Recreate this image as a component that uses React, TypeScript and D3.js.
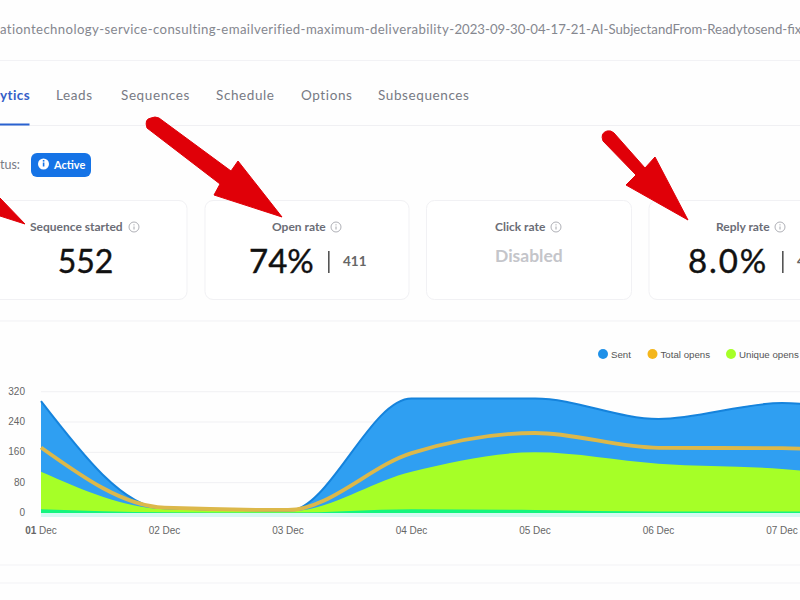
import React, { useMemo } from "react";
import * as d3 from "d3";

const dates = ["01 Dec", "02 Dec", "03 Dec", "04 Dec", "05 Dec", "06 Dec", "07 Dec", "08 Dec"];
const tickLabels = dates.slice(0, 7);
const yTicks = [0, 80, 160, 240, 320];
const sent = [295, 10, 5, 302, 302, 248, 290, 240];
const totalOpens = [173, 14, 8, 158, 211, 172, 171, 135];
const uniqueOpens = [109, 10, 4, 109, 160, 130, 116, 80];
const lowSeries = [10, 2, 1, 10, 8, 4, 4, 4];
const legendNames = ["Sent", "Total opens", "Unique opens"];
const legendColors = ["#1e90e8", "#f4b61c", "#a6ff27"];
const tabs = ["Leads", "Sequences", "Schedule", "Options", "Subsequences"];
const tabX = [56, 121, 216, 301, 378];

const FONT = "Lato, 'Open Sans', sans-serif";
const AXIS = "'Liberation Sans', Arial, sans-serif";

function Info({ x, y, color = "#9a9ca3" }: { x: number; y: number; color?: string }) {
  return (
    <g>
      <circle cx={x} cy={y} r={5} fill="none" stroke={color} strokeWidth={0.8} />
      <line x1={x} x2={x} y1={y - 0.5} y2={y + 2.5} stroke={color} strokeWidth={0.9} />
      <circle cx={x} cy={y - 2.2} r={0.6} fill={color} />
    </g>
  );
}

function Card({ x, w }: { x: number; w: number }) {
  return <rect x={x} y={200.5} width={w} height={99} rx={8} fill="#fff" stroke="#f1f1f4" strokeWidth={1} />;
}

export default function App() {
  const x = useMemo(() => d3.scalePoint<string>().domain(dates).range([41, 41 + 123.5 * 7]), []);
  const y = useMemo(() => d3.scaleLinear().domain([0, 320]).range([513, 391.7]), []);
  const area = (vals: number[]) =>
    d3
      .area<number>()
      .x((_, i) => x(dates[i]) as number)
      .y0(y(0))
      .y1((d) => y(d))
      .curve(d3.curveMonotoneX)(vals) as string;
  const line = (vals: number[]) =>
    d3
      .line<number>()
      .x((_, i) => x(dates[i]) as number)
      .y((d) => y(d))
      .curve(d3.curveMonotoneX)(vals) as string;

  return (
    <svg
      width={800}
      height={600}
      viewBox="0 0 800 600"
      style={{ position: "fixed", left: 0, top: 0, background: "#fefefe" }}
    >
      <text x={0} y={34} fontFamily={FONT} fontSize={13.2} fill="#85878f">
        <tspan letterSpacing={0.38}>ationtechnology-service-consulting-emailverified-maximum-deliverability-</tspan>
        <tspan letterSpacing={0}>2023-09-30-04-17-21-AI-SubjectandFrom-Readytosend-fix</tspan>
      </text>
      <line x1={0} x2={800} y1={60.5} y2={60.5} stroke="#f2f2f5" />

      <text x={0} y={100} fontFamily={FONT} fontSize={13.5} fontWeight={700} letterSpacing={0.4} fill="#3560c8">
        ytics
      </text>
      {tabs.map((t, i) => (
        <text key={t} x={tabX[i]} y={100} fontFamily={FONT} fontSize={13.5} letterSpacing={0.6} fill="#777a84">
          {t}
        </text>
      ))}
      <line x1={0} x2={800} y1={125.5} y2={125.5} stroke="#f0f0f3" />
      <rect x={0} y={123.5} width={29.5} height={2} fill="#2a62d0" />

      <text x={0} y={169} fontFamily={FONT} fontSize={12.5} fill="#777a84">
        tus:
      </text>
      <rect x={31} y={153} width={60} height={24} rx={6} fill="#1573e6" />
      <circle cx={43.5} cy={164} r={5.5} fill="#fff" />
      <rect x={42.8} y={162.5} width={1.6} height={4} fill="#1573e6" />
      <rect x={42.8} y={160} width={1.6} height={1.6} fill="#1573e6" />
      <text x={54} y={169} fontFamily={FONT} fontSize={11} fontWeight={700} fill="#fff">
        Active
      </text>

      <Card x={-30} w={217} />
      <Card x={205} w={204} />
      <Card x={426.5} w={205} />
      <Card x={649} w={200} />

      <text x={30} y={231} fontFamily={FONT} fontSize={12} fontWeight={700} fill="#6b6d76">
        Sequence started
      </text>
      <Info x={134} y={227} />
      <text x={85.5} y={273} textAnchor="middle" fontFamily={FONT} fontSize={32} fill="#111" stroke="#111" strokeWidth={0.4}>
        552
      </text>

      <text x={272} y={231} fontFamily={FONT} fontSize={12} fontWeight={700} fill="#6b6d76">
        Open rate
      </text>
      <Info x={336} y={227} />
      <text x={249} y={273} fontFamily={FONT} fontSize={33} fill="#111" stroke="#111" strokeWidth={0.4}>
        74%
      </text>
      <rect x={328} y={251} width={1.6} height={22} fill="#555" />
      <text x={343} y={266} fontFamily={FONT} fontSize={13.5} fontWeight={700} fill="#666">
        411
      </text>

      <text x={495} y={231} fontFamily={FONT} fontSize={12} fontWeight={700} fill="#6b6d76">
        Click rate
      </text>
      <Info x={556} y={227} />
      <text x={495} y={262} fontFamily={FONT} fontSize={17.5} fontWeight={700} fill="#c4c5ca">
        Disabled
      </text>

      <text x={716} y={231} fontFamily={FONT} fontSize={12} fontWeight={700} fill="#6b6d76">
        Reply rate
      </text>
      <Info x={780} y={227} />
      <text x={688} y={273} fontFamily={FONT} fontSize={33} letterSpacing={1.9} fill="#111" stroke="#111" strokeWidth={0.4}>
        8.0%
      </text>
      <rect x={782} y={251} width={1.6} height={22} fill="#555" />
      <text x={797} y={266} fontFamily={FONT} fontSize={13.5} fontWeight={700} fill="#666">
        4
      </text>

      <g fill="#e00008" stroke="#e00008" strokeLinejoin="round" strokeWidth={1}>
        <path d="M0,198 L25,224 L0,216 Z" />
        <path d="M147,128 Q144,119 151,118 Q155,116 159,118 L231,171 L238,161 L282,217 L214,195 L220,184 Z" />
        <path d="M603,141 Q600,133 607,131 Q611,130 614,133 L645,168 L655,157 L688,220 L626,185 L636,175 Z" />
      </g>

      <line x1={0} x2={800} y1={321} y2={321} stroke="#f1f1f4" />

      {legendNames.map((n, i) => {
        const cx = [603, 652.5, 731][i];
        return (
          <g key={n}>
            <circle cx={cx} cy={354} r={5} fill={legendColors[i]} />
            <text x={cx + 8} y={358} fontFamily={AXIS} fontSize={9.7} fill="#555">
              {n}
            </text>
          </g>
        );
      })}

      {yTicks.map((t) => (
        <g key={t}>
          {t > 0 && <line x1={41} x2={800} y1={y(t)} y2={y(t)} stroke="#f0f0f3" />}
          <text x={25} y={y(t) + 3} textAnchor="end" fontFamily={AXIS} fontSize={10} fill="#666">
            {t}
          </text>
        </g>
      ))}

      <path d={line(dates.map(() => 0))} transform="translate(0,2)" fill="none" stroke="#d5f9f3" strokeWidth={4} />
      <path d={area(sent)} fill="#2f9ff2" />
      <path d={line(sent)} fill="none" stroke="#1583dc" strokeWidth={2} />
      <path d={area(uniqueOpens)} fill="#a6ff27" />
      <path d={area(lowSeries)} fill="#14f57e" />
      <path d={line(totalOpens)} fill="none" stroke="#dcb84a" strokeWidth={3.8} />

      {tickLabels.map((d, i) => {
        const [day, month] = d.split(" ");
        return (
          <text key={d} x={x(d) as number} y={534} textAnchor="middle" fontFamily={AXIS} fontSize={10} fill="#666">
            <tspan fontWeight={i === 0 ? 700 : 400}>{day}</tspan> {month}
          </text>
        );
      })}

      <line x1={0} x2={800} y1={565} y2={565} stroke="#f2f2f5" />
      <line x1={0} x2={800} y1={583} y2={583} stroke="#f2f2f5" />
    </svg>
  );
}
